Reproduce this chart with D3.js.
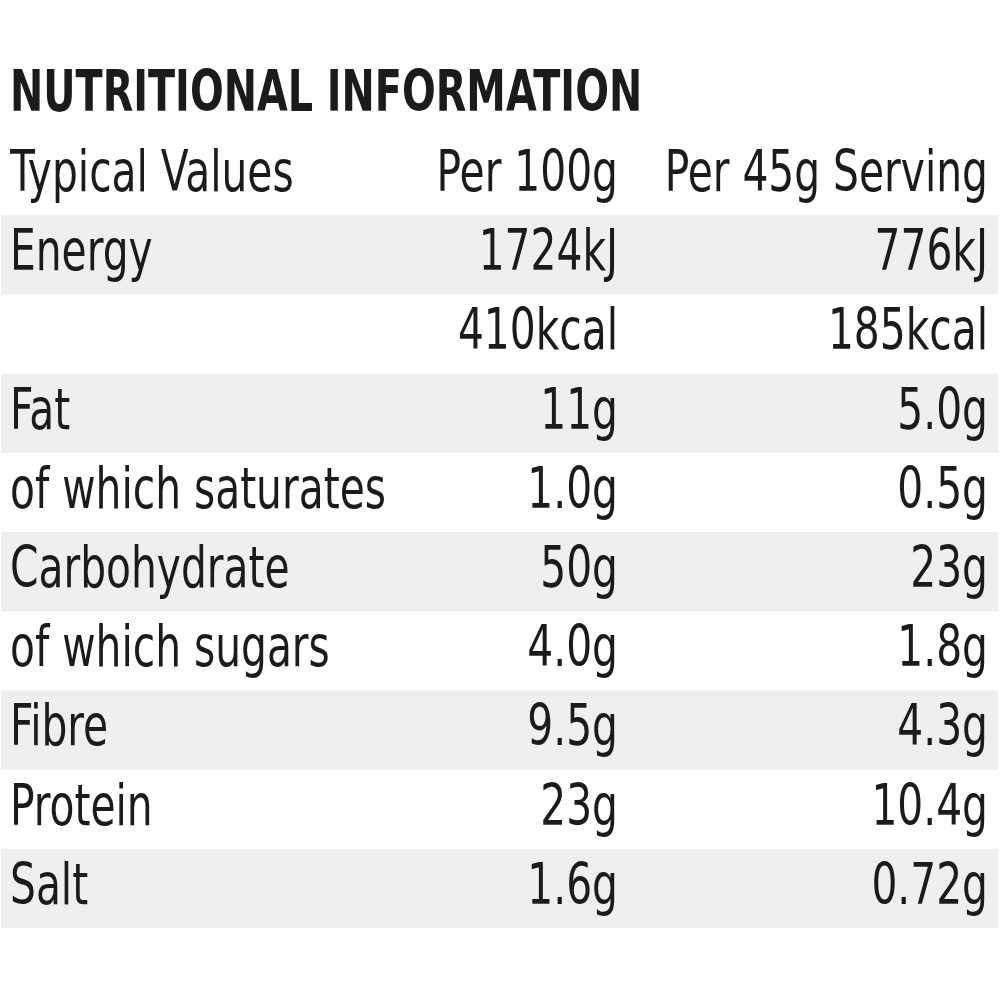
<!DOCTYPE html>
<html>
<head>
<meta charset="utf-8">
<script src="https://cdn.jsdelivr.net/npm/d3@7"></script>
<style>
  html, body { margin: 0; padding: 0; background: #fff; }
  text { font-family: "DejaVu Sans Condensed", "Liberation Sans Narrow", sans-serif; fill: #1b1b1b; }
</style>
</head>
<body>
<div class="chart"></div>
<script>
const WIDTH = 1000;
const HEIGHT = 1000;
const FONT = 57;
const SQUEEZE = 0.795;
const TITLE_SQUEEZE = 0.775;

var title = 'NUTRITIONAL INFORMATION';
var headers = ['Typical Values', 'Per 100g', 'Per 45g Serving'];
var nutrients = ['Energy', '', 'Fat', 'of which saturates', 'Carbohydrate',
  'of which sugars', 'Fibre', 'Protein', 'Salt'];
var per100g = ['1724kJ', '410kcal', '11g', '1.0g', '50g', '4.0g', '9.5g', '23g', '1.6g'];
var perServing = ['776kJ', '185kcal', '5.0g', '0.5g', '23g', '1.8g', '4.3g', '10.4g', '0.72g'];

var rows = [headers].concat(nutrients.map(function(n, i) {
  return [n, per100g[i], perServing[i]];
}));

var translate = function(x, y) {
  return 'translate(' + x + ',' + y + ')';
};

var yScale = d3.scaleBand()
  .domain(d3.range(rows.length))
  .range([136, 136 + rows.length * 79.2]);

// left edge for labels, right edge for the two value columns
var xScale = d3.scaleOrdinal()
  .domain([0, 1, 2])
  .range([10, 618, 988]);

var svg = d3.select('.chart').append('svg')
  .attr('width', WIDTH)
  .attr('height', HEIGHT);

svg.append('g').selectAll('rect')
  .data(d3.range(1, rows.length, 2))
  .enter().append('rect')
  .attr('x', 1)
  .attr('y', function(i) { return yScale(i); })
  .attr('width', WIDTH - 3)
  .attr('height', yScale.bandwidth())
  .attr('fill', '#efefef');

svg.append('text')
  .attr('transform', translate(10, 111) + ' scale(' + TITLE_SQUEEZE + ',1)')
  .attr('font-size', FONT)
  .attr('font-weight', 'bold')
  .text(title);

var rowG = svg.append('g').selectAll('g')
  .data(rows)
  .enter().append('g')
  .attr('transform', function(d, i) { return translate(0, yScale(i) + 55); });

rowG.selectAll('text')
  .data(function(d) { return d; })
  .enter().append('text')
  .attr('transform', function(d, j) { return translate(xScale(j), 0) + ' scale(' + SQUEEZE + ',1)'; })
  .attr('text-anchor', function(d, j) { return j === 0 ? 'start' : 'end'; })
  .attr('font-size', FONT)
  .text(function(d) { return d; });
</script>
</body>
</html>
